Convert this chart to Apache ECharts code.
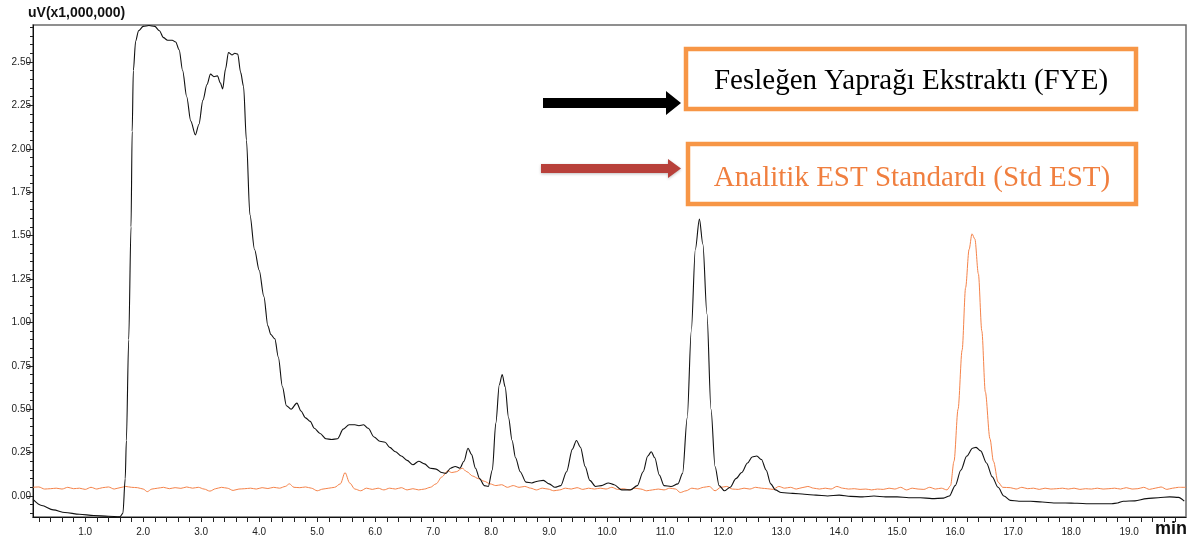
<!DOCTYPE html>
<html>
<head>
<meta charset="utf-8">
<title>HPLC kromatogramı — FYE / Std EST</title>
<script src="https://cdn.jsdelivr.net/npm/echarts@6.0.0/dist/echarts.min.js"></script>
<style>
  html, body { margin: 0; padding: 0; background: #fff; }
  #chart { width: 1200px; height: 542px; }
</style>
</head>
<body>
<div id="chart"></div>
<script>
// Retention time (min) and detector signal (uV x 1,000,000) for the basil leaf extract
const fyeTime = [
  0.10, 0.25, 0.45, 0.65, 0.90, 1.15, 1.40, 1.60, 1.65, 1.69, 1.71, 1.75, 1.79, 1.81, 1.83, 1.87, 1.92,
  2.00, 2.10, 2.20, 2.28, 2.35, 2.42, 2.50, 2.56, 2.62, 2.68, 2.75, 2.82, 2.90, 2.96,
  3.03, 3.10, 3.16, 3.22, 3.28, 3.33, 3.37, 3.42, 3.47, 3.53, 3.58, 3.63, 3.68, 3.73, 3.78, 3.84, 3.92,
  4.00, 4.08, 4.15, 4.20, 4.27, 4.33, 4.40, 4.47, 4.55, 4.65, 4.72, 4.80, 4.88, 4.95,
  5.05, 5.15, 5.25, 5.35, 5.45, 5.55, 5.65, 5.72, 5.80, 5.88, 5.98,
  6.08, 6.17, 6.25, 6.35, 6.45, 6.55, 6.65, 6.75, 6.85, 6.95,
  7.05, 7.15, 7.22, 7.30, 7.38, 7.46, 7.53, 7.60, 7.66, 7.73, 7.80, 7.88, 7.95,
  8.02, 8.08, 8.14, 8.19, 8.24, 8.30, 8.36, 8.42, 8.50, 8.60, 8.70, 8.80, 8.90,
  9.00, 9.10, 9.20, 9.30, 9.40, 9.47, 9.54, 9.62, 9.70, 9.80, 9.90,
  10.02, 10.12, 10.25, 10.40, 10.52, 10.62, 10.70, 10.76, 10.82, 10.90, 10.98,
  11.10, 11.22, 11.30, 11.38, 11.45, 11.52, 11.59, 11.65, 11.72, 11.79, 11.86, 11.93,
  12.02, 12.12, 12.22, 12.32, 12.42, 12.50, 12.58, 12.66, 12.74, 12.82, 12.90,
  13.00, 13.20, 13.40, 13.60, 13.80, 14.00, 14.20, 14.40, 14.60, 14.80,
  15.00, 15.20, 15.40, 15.60, 15.80, 15.90, 16.00, 16.10, 16.20, 16.30, 16.36, 16.44, 16.54, 16.64, 16.74, 16.84, 16.95,
  17.10, 17.30, 17.50, 17.70, 17.90, 18.10, 18.30, 18.50, 18.70, 18.80, 18.90,
  19.10, 19.30, 19.50, 19.70, 19.85, 19.95
];
const fyeSignal = [
  -0.020, -0.055, -0.080, -0.095, -0.105, -0.112, -0.117, -0.120, -0.100, 0.100, 0.320, 0.900, 1.550, 2.100, 2.450, 2.620, 2.680,
  2.705, 2.710, 2.705, 2.680, 2.640, 2.625, 2.625, 2.615, 2.570, 2.450, 2.300, 2.160, 2.080, 2.140,
  2.280, 2.370, 2.430, 2.415, 2.420, 2.380, 2.345, 2.460, 2.555, 2.540, 2.550, 2.545, 2.440, 2.360, 2.050, 1.620, 1.420,
  1.300, 1.150, 0.980, 0.930, 0.905, 0.800, 0.630, 0.520, 0.500, 0.535, 0.490, 0.450, 0.430, 0.390,
  0.360, 0.330, 0.325, 0.330, 0.385, 0.410, 0.410, 0.405, 0.410, 0.390, 0.340,
  0.315, 0.310, 0.280, 0.255, 0.230, 0.205, 0.180, 0.200, 0.185, 0.160,
  0.155, 0.135, 0.130, 0.160, 0.170, 0.160, 0.200, 0.275, 0.240, 0.160, 0.100, 0.060, 0.055,
  0.150, 0.420, 0.640, 0.700, 0.630, 0.450, 0.320, 0.220, 0.140, 0.080, 0.075, 0.085, 0.090,
  0.070, 0.050, 0.060, 0.140, 0.270, 0.320, 0.280, 0.170, 0.090, 0.055, 0.060,
  0.075, 0.065, 0.035, 0.035, 0.060, 0.140, 0.230, 0.255, 0.220, 0.120, 0.060,
  0.055, 0.070, 0.130, 0.450, 0.950, 1.420, 1.595, 1.450, 1.050, 0.500, 0.170, 0.060,
  0.030, 0.050, 0.100, 0.135, 0.190, 0.225, 0.230, 0.210, 0.150, 0.070, 0.035,
  0.020, 0.015, 0.010, 0.005, 0.000, 0.005, -0.002, -0.005, 0.000, -0.005,
  -0.005, -0.010, -0.010, -0.015, -0.012, 0.000, 0.060, 0.150, 0.230, 0.275, 0.280, 0.260, 0.190, 0.110, 0.050, 0.000, -0.025,
  -0.030, -0.030, -0.035, -0.040, -0.040, -0.042, -0.045, -0.045, -0.045, -0.040, -0.030,
  -0.028, -0.015, -0.010, -0.005, -0.008, -0.030
];

// Retention time (min) and detector signal for the analytical estragole standard
const estTime = [
  0.10, 0.20, 0.30, 0.40, 0.50, 0.60, 0.70, 0.80, 0.90, 1.00, 1.10, 1.20, 1.30, 1.40, 1.50, 1.60, 1.70, 1.80, 1.90,
  2.00, 2.07, 2.15, 2.25, 2.35, 2.45, 2.55, 2.65, 2.75, 2.85, 2.95,
  3.05, 3.15, 3.25, 3.35, 3.45, 3.55, 3.65, 3.75, 3.85, 3.95,
  4.05, 4.15, 4.25, 4.35, 4.45, 4.52, 4.60, 4.70, 4.80, 4.90,
  5.00, 5.10, 5.20, 5.30, 5.40, 5.48, 5.56, 5.65, 5.75, 5.85, 5.95,
  6.05, 6.15, 6.25, 6.35, 6.45, 6.55, 6.65, 6.75, 6.85, 6.95,
  7.05, 7.15, 7.25, 7.32, 7.40, 7.50, 7.58, 7.68, 7.78, 7.88, 7.98,
  8.08, 8.18, 8.28, 8.38, 8.48, 8.58, 8.68, 8.78, 8.88, 8.98,
  9.08, 9.18, 9.28, 9.38, 9.48, 9.58, 9.68, 9.78, 9.88, 9.98,
  10.08, 10.18, 10.28, 10.38, 10.48, 10.58, 10.68, 10.78, 10.88, 10.98,
  11.08, 11.18, 11.26, 11.36, 11.46, 11.56, 11.66, 11.76, 11.86, 11.96,
  12.06, 12.16, 12.26, 12.36, 12.46, 12.56, 12.66, 12.76, 12.86, 12.96,
  13.06, 13.16, 13.26, 13.36, 13.46, 13.56, 13.66, 13.76, 13.86, 13.96,
  14.06, 14.16, 14.26, 14.36, 14.46, 14.56, 14.66, 14.76, 14.86, 14.96,
  15.06, 15.16, 15.26, 15.36, 15.46, 15.56, 15.66, 15.76, 15.86, 15.92, 15.98,
  16.05, 16.12, 16.18, 16.24, 16.29, 16.34, 16.40, 16.46, 16.52, 16.60, 16.66, 16.74, 16.82, 16.95,
  17.05, 17.15, 17.25, 17.35, 17.45, 17.55, 17.65, 17.75, 17.85, 17.95,
  18.05, 18.15, 18.25, 18.35, 18.45, 18.55, 18.65, 18.75, 18.85, 18.95,
  19.05, 19.15, 19.25, 19.35, 19.45, 19.55, 19.65, 19.75, 19.85, 19.98
];
const estSignal = [
  0.050, 0.052, 0.040, 0.042, 0.045, 0.040, 0.050, 0.042, 0.045, 0.038, 0.050, 0.040, 0.048, 0.052, 0.040, 0.048, 0.055, 0.050, 0.048,
  0.040, 0.025, 0.040, 0.045, 0.050, 0.042, 0.048, 0.044, 0.052, 0.045, 0.050,
  0.040, 0.028, 0.042, 0.050, 0.045, 0.032, 0.040, 0.042, 0.045, 0.040,
  0.048, 0.043, 0.050, 0.045, 0.055, 0.070, 0.050, 0.048, 0.052, 0.045,
  0.030, 0.040, 0.045, 0.050, 0.070, 0.135, 0.075, 0.040, 0.030, 0.045, 0.038,
  0.045, 0.035, 0.045, 0.040, 0.048, 0.035, 0.042, 0.035, 0.040, 0.050,
  0.070, 0.110, 0.145, 0.135, 0.140, 0.160, 0.140, 0.115, 0.100, 0.085, 0.070,
  0.060, 0.065, 0.050, 0.060, 0.050, 0.055, 0.045, 0.035, 0.045, 0.040,
  0.030, 0.035, 0.045, 0.040, 0.048, 0.038, 0.045, 0.040, 0.045, 0.040,
  0.050, 0.038, 0.042, 0.035, 0.045, 0.040, 0.030, 0.035, 0.040, 0.035,
  0.045, 0.040, 0.020, 0.030, 0.045, 0.040, 0.050, 0.055, 0.030, 0.050,
  0.055, 0.040, 0.038, 0.045, 0.040, 0.050, 0.045, 0.042, 0.038, 0.055,
  0.045, 0.050, 0.040, 0.048, 0.055, 0.045, 0.040, 0.045, 0.040, 0.055,
  0.045, 0.040, 0.042, 0.038, 0.040, 0.035, 0.040, 0.038, 0.045, 0.040,
  0.050, 0.035, 0.045, 0.040, 0.038, 0.050, 0.040, 0.045, 0.035, 0.060, 0.200,
  0.500, 0.840, 1.200, 1.420, 1.510, 1.480, 1.280, 0.950, 0.600, 0.330, 0.200, 0.080, 0.050, 0.048,
  0.040, 0.050, 0.042, 0.045, 0.038, 0.045, 0.040, 0.042, 0.045, 0.040,
  0.045, 0.038, 0.042, 0.040, 0.045, 0.040, 0.042, 0.045, 0.040, 0.048,
  0.040, 0.042, 0.050, 0.038, 0.045, 0.052, 0.038, 0.045, 0.050, 0.050
];

// Axis ticks and labels
const xLabelValues = [1, 2, 3, 4, 5, 6, 7, 8, 9, 10, 11, 12, 13, 14, 15, 16, 17, 18, 19];
const yLabelValues = [0, 0.25, 0.5, 0.75, 1.0, 1.25, 1.5, 1.75, 2.0, 2.25, 2.5];
const yAxisTitle = 'uV(x1,000,000)';
const xAxisTitle = 'min';
const legendFYE = 'Fesleğen Yaprağı Ekstraktı (FYE)';
const legendEST = 'Analitik EST Standardı (Std EST)';

const X_MIN = 0.1, X_MAX = 19.98;
const Y_MIN = -0.121, Y_MAX = 2.713;

// minor tick positions: every 0.2 min on time axis, every 0.05 on signal axis
const xTicks = [];
for (let i = 1; i * 0.2 < X_MAX; i++) xTicks.push(+(i * 0.2).toFixed(2));
const yMinorTicks = [];
for (let i = -2; i * 0.05 < Y_MAX; i++) yMinorTicks.push(+(i * 0.05).toFixed(2));

const pair = (t, v) => t.map((x, i) => [x, v[i]]);

const axisFont = '"Liberation Sans Narrow", "Arial Narrow", "Liberation Sans", sans-serif';
const serifFont = '"Liberation Serif", "Times New Roman", serif';

const chart = echarts.init(document.getElementById('chart'), null, { renderer: 'canvas' });

chart.setOption({
  animation: false,
  backgroundColor: '#ffffff',
  grid: {
    left: 33, right: 14, top: 25, bottom: 25,
    containLabel: false,
    outerBoundsMode: 'none',
    show: true,
    borderColor: '#6b6b6b',
    borderWidth: 1.5,
    backgroundColor: 'transparent'
  },
  xAxis: {
    type: 'value',
    min: X_MIN, max: X_MAX,
    axisLine: { show: true, onZero: false, lineStyle: { color: '#111', width: 1 } },
    axisTick: { show: true, customValues: xTicks, length: 5, inside: false, lineStyle: { color: '#222', width: 1 } },
    axisLabel: {
      customValues: xLabelValues,
      formatter: v => v.toFixed(1),
      color: '#222', fontSize: 10, fontFamily: axisFont, margin: 10
    },
    splitLine: { show: false }
  },
  yAxis: [
    {
      type: 'value',
      min: Y_MIN, max: Y_MAX,
      axisLine: { show: true, onZero: false, lineStyle: { color: '#111', width: 1 } },
      axisTick: { show: true, customValues: yLabelValues, length: 6, lineStyle: { color: '#222', width: 1 } },
      axisLabel: {
        customValues: yLabelValues,
        formatter: v => v.toFixed(2),
        color: '#222', fontSize: 10, fontFamily: axisFont, margin: 2
      },
      splitLine: { show: false }
    },
    {
      type: 'value',
      min: Y_MIN, max: Y_MAX,
      position: 'left',
      axisLine: { show: false },
      axisTick: { show: true, customValues: yMinorTicks, length: 3, lineStyle: { color: '#222', width: 1 } },
      axisLabel: { show: false },
      splitLine: { show: false }
    }
  ],
  series: [
    {
      name: legendEST,
      type: 'line',
      data: pair(estTime, estSignal),
      showSymbol: false,
      smooth: 0.3,
      smoothMonotone: 'x',
      lineStyle: { color: '#f5834a', width: 1 },
      z: 2
    },
    {
      name: legendFYE,
      type: 'line',
      data: pair(fyeTime, fyeSignal),
      showSymbol: false,
      smooth: 0.3,
      smoothMonotone: 'x',
      lineStyle: { color: '#111111', width: 1.1 },
      z: 3
    }
  ],
  graphic: [
    // axis titles
    { type: 'text', left: 28, top: 6, style: { text: yAxisTitle, font: 'bold 14px ' + axisFont, fill: '#111' } },
    { type: 'text', right: 13, top: 520, style: { text: xAxisTitle, font: 'bold 18px ' + axisFont, fill: '#111' } },
    // legend: black arrow + boxed label
    { type: 'polygon', shape: { points: [[543, 98], [666, 98], [666, 91], [681, 103], [666, 115], [666, 108], [543, 108]] },
      style: { fill: '#000' }, z: 10 },
    { type: 'rect', shape: { x: 686, y: 49, width: 450, height: 60 },
      style: { fill: '#fff', stroke: '#f79646', lineWidth: 4.5 }, z: 10 },
    { type: 'text', x: 911, y: 81, style: { text: legendFYE, font: '29px ' + serifFont, fill: '#000', align: 'center', verticalAlign: 'middle' }, z: 11 },
    // legend: red arrow + boxed label
    { type: 'polygon', shape: { points: [[541, 164], [668, 164], [668, 159], [681, 168.5], [668, 178], [668, 173], [541, 173]] },
      style: { fill: '#b8403a', shadowBlur: 3, shadowColor: 'rgba(0,0,0,0.25)', shadowOffsetY: 1 }, z: 10 },
    { type: 'rect', shape: { x: 688, y: 144, width: 448, height: 60 },
      style: { fill: '#fff', stroke: '#f79646', lineWidth: 4.5 }, z: 10 },
    { type: 'text', x: 912, y: 178, style: { text: legendEST, font: '29px ' + serifFont, fill: '#f07f3f', align: 'center', verticalAlign: 'middle' }, z: 11 }
  ]
});
</script>
</body>
</html>
